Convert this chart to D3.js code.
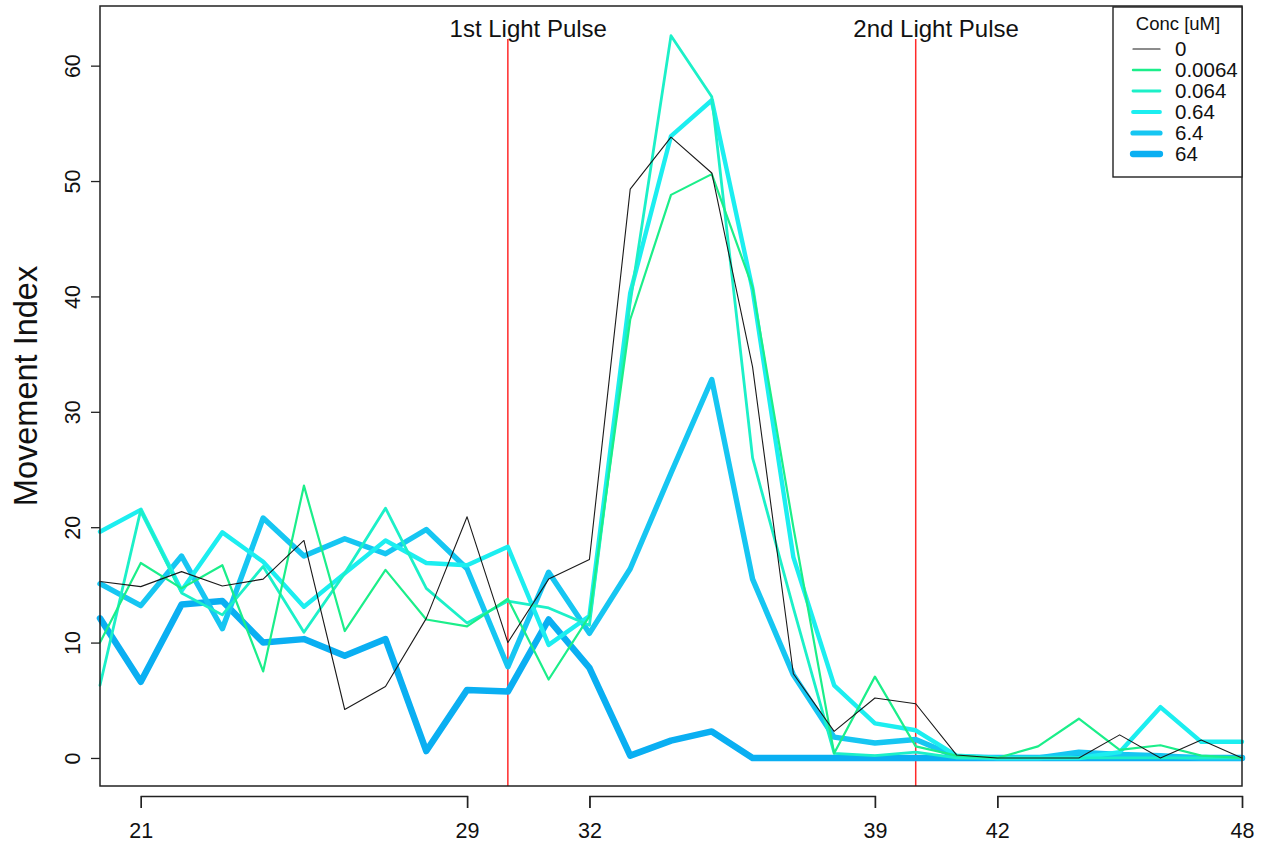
<!DOCTYPE html>
<html>
<head>
<meta charset="utf-8">
<script src="https://cdn.jsdelivr.net/npm/d3@7"></script>
<style>
body { margin: 0; background: #fff; }
text { font-family: "Liberation Sans", Arial, sans-serif; fill: #111; }
</style>
</head>
<body>
<script>
let times = [20,21,22,23,24,25,26,27,28,29,30,31,32,33,34,35,36,37,38,39,40,41,42,43,44,45,46,47,48]
let concs = ["0", "0.0064", "0.064", "0.64", "6.4", "64"]

let conc_0      = [15.3,14.85,16.15,14.9,15.5,18.85,4.2,6.2,12.1,20.9,10.0,15.5,17.2,49.3,53.8,50.7,33.9,7.3,2.3,5.2,4.7,0.26,0,0,0,2.0,0,1.56,0]
let conc_0_0064 = [10.0,16.9,14.7,16.7,7.5,23.6,11.0,16.3,12.0,11.4,13.8,6.8,12.3,38.0,48.8,50.6,40.8,20.0,0.4,7.05,1.0,0.2,0,1.0,3.4,0.7,1.1,0.2,0]
let conc_0_064  = [6.3,21.5,14.3,12.4,16.6,10.9,16.0,21.65,14.7,11.7,13.6,13.0,11.5,39.5,62.6,57.3,26.0,13.0,0.4,0.2,0.5,0,0,0,0,0,0,0,0]
let conc_0_64   = [19.6,21.5,14.5,19.55,17.0,13.1,16.0,18.85,16.9,16.7,18.3,9.8,12.3,40.3,53.9,57.0,40.6,17.4,6.3,3.0,2.4,0.2,0,0,0,0.5,4.4,1.4,1.4]
let conc_6_4    = [15.1,13.2,17.5,11.2,20.8,17.5,19.0,17.7,19.8,16.4,7.9,16.1,10.8,16.4,24.7,32.8,15.5,7.2,1.8,1.3,1.6,0.1,0,0,0.5,0.3,0.2,0,0]
let conc_64     = [12.1,6.6,13.3,13.6,10.0,10.3,8.85,10.3,0.6,5.9,5.75,12.0,7.8,0.2,1.5,2.3,0,0,0,0,0,0,0,0,0,0,0,0,0]
let series = [conc_0, conc_0_0064, conc_0_064, conc_0_64, conc_6_4, conc_64]

let xTickGroups = [[21, 29], [32, 39], [42, 48]]
let yTicks = [0, 10, 20, 30, 40, 50, 60]
let pulseTimes = [30, 40]
let pulseLabels = ["1st Light Pulse", "2nd Light Pulse"]

// styles
let colors = ["#1a1a1a", "#1bee8a", "#1cf0c8", "#1ceef0", "#16c6f2", "#0aaff2"]
let widths = [1.1, 2.2, 2.8, 4.4, 5.4, 6.5]
let legendWidths = [1.2, 2.4, 2.8, 3.8, 5.2, 6.3]

let width = 1263, height = 846
let plotLeft = 100, plotRight = 1242, plotTop = 6, plotBottom = 786

let svg = d3.select("body").append("svg")
    .attr("width", width)
    .attr("height", height)

let x = d3.scaleLinear().domain([20, 48]).range([plotLeft, plotRight])
let y = d3.scaleLinear().domain([-2.43, 65.17]).range([plotBottom, plotTop])

// light pulse markers
svg.selectAll(".pulse")
    .data(pulseTimes)
    .enter().append("line")
    .attr("x1", d => x(d)).attr("x2", d => x(d))
    .attr("y1", y(62.3)).attr("y2", plotBottom)
    .attr("stroke", "#ff2a2a")
    .attr("stroke-width", 1.5)

svg.selectAll(".pulseLabel")
    .data(pulseLabels)
    .enter().append("text")
    .attr("x", (d, i) => x(pulseTimes[i] + 0.5))
    .attr("y", 37)
    .attr("text-anchor", "middle")
    .style("font-size", "24px")
    .text(d => d)

// lines, highest concentration first so the thin ones sit on top
let line = d3.line()
    .x((d, i) => x(times[i]))
    .y(d => y(d))

for (let k = series.length - 1; k >= 0; k--) {
    svg.append("path")
        .datum(series[k])
        .attr("d", line)
        .attr("fill", "none")
        .attr("stroke", colors[k])
        .attr("stroke-width", widths[k])
        .attr("stroke-linejoin", "round")
        .attr("stroke-linecap", "round")
}

// box
svg.append("rect")
    .attr("x", plotLeft).attr("y", plotTop)
    .attr("width", plotRight - plotLeft).attr("height", plotBottom - plotTop)
    .attr("fill", "none")
    .attr("stroke", "#222")
    .attr("stroke-width", 1.5)

// y axis
let yAxis = svg.append("g")
    .attr("transform", "translate(" + plotLeft + ",0)")
    .call(d3.axisLeft(y).tickValues(yTicks).tickSize(9).tickSizeOuter(0))
yAxis.select(".domain").remove()
yAxis.selectAll("line").attr("stroke", "#222").attr("stroke-width", 1.3)
yAxis.selectAll("text")
    .attr("transform", "rotate(-90)")
    .attr("x", 0).attr("y", -20).attr("dy", 0)
    .attr("text-anchor", "middle")
    .style("font-size", "21.5px")
    .style("font-family", "Liberation Sans, Arial, sans-serif")
    .attr("fill", "#111")

svg.append("text")
    .attr("transform", "translate(37,386) rotate(-90)")
    .attr("text-anchor", "middle")
    .style("font-size", "32.5px")
    .text("Movement Index")

// x axis in three bracket pieces
xTickGroups.forEach(function(g) {
    let seg = d3.scaleLinear().domain(g).range([x(g[0]), x(g[1])])
    let ax = svg.append("g")
        .attr("transform", "translate(0,796)")
        .call(d3.axisBottom(seg).tickValues(g).tickSize(12).tickSizeOuter(12).tickFormat(d3.format("d")))
    ax.selectAll("path, line").attr("stroke", "#222").attr("stroke-width", 1.4)
    ax.selectAll("text")
        .attr("y", 42).attr("dy", 0)
        .style("font-size", "21.5px")
        .style("font-family", "Liberation Sans, Arial, sans-serif")
        .attr("fill", "#111")
})

// legend
let lg = svg.append("g")
lg.append("rect")
    .attr("x", 1113).attr("y", 7)
    .attr("width", plotRight - 1113).attr("height", 170)
    .attr("fill", "#fff")
    .attr("stroke", "#222")
    .attr("stroke-width", 1.4)
lg.append("text")
    .attr("x", 1178).attr("y", 30)
    .attr("text-anchor", "middle")
    .style("font-size", "18.5px")
    .text("Conc [uM]")
let rows = lg.selectAll(".row")
    .data(concs)
    .enter().append("g")
    .attr("transform", (d, i) => "translate(0," + (49 + i * 21) + ")")
rows.append("line")
    .attr("x1", 1133).attr("x2", 1160)
    .attr("stroke", (d, i) => colors[i])
    .attr("stroke-width", (d, i) => legendWidths[i])
    .attr("stroke-linecap", "round")
rows.append("text")
    .attr("x", 1175).attr("y", 7)
    .style("font-size", "20.5px")
    .text(d => d)
</script>
</body>
</html>
